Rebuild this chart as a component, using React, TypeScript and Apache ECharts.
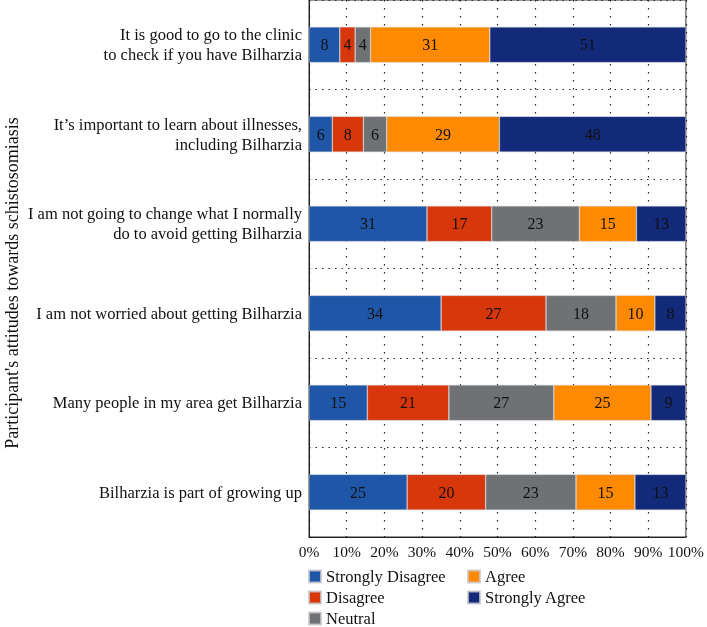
import React, { useEffect, useRef } from "react";
import * as echarts from "echarts";

const categories = [
  "It is good to go to the clinic\nto check if you have Bilharzia",
  "It\u2019s important to learn about illnesses,\nincluding Bilharzia",
  "I am not going to change what I normally\ndo to avoid getting Bilharzia",
  "I am not worried about getting Bilharzia",
  "Many people in my area get Bilharzia",
  "Bilharzia is part of growing up",
];

const seriesNames = ["Strongly Disagree", "Disagree", "Neutral", "Agree", "Strongly Agree"];
const stronglyDisagree = [8, 6, 31, 34, 15, 25];
const disagree = [4, 8, 17, 27, 21, 20];
const neutral = [4, 6, 23, 18, 27, 23];
const agree = [31, 29, 15, 10, 25, 15];
const stronglyAgree = [51, 48, 13, 8, 9, 13];
const xTickLabels = ["0%", "10%", "20%", "30%", "40%", "50%", "60%", "70%", "80%", "90%", "100%"];
const yAxisTitle = "Participant's attitudes towards schistosomiasis";

const colors = ["#1F56A8", "#D8370C", "#6F7275", "#FF8A00", "#13297A"];
const FONT = "'Liberation Serif', 'DejaVu Serif', serif";

export default function App() {
  const ref = useRef<HTMLDivElement>(null);
  useEffect(() => {
    if (!ref.current) return;
    const chart = echarts.init(ref.current, null, { renderer: "svg" });
    const raw = [stronglyDisagree, disagree, neutral, agree, stronglyAgree];
    const totals = categories.map((_, i) => raw.reduce((s, arr) => s + arr[i], 0));
    const series = raw.map((arr, k) => ({
      name: seriesNames[k],
      type: "bar",
      stack: "total",
      barWidth: "40%",
      itemStyle: { color: colors[k], borderColor: "rgba(200,200,205,0.8)", borderWidth: 0.6 },
      label: {
        show: true,
        position: "inside",
        color: "#111",
        fontFamily: FONT,
        fontSize: 16,
        formatter: (p: any) => String(arr[p.dataIndex]),
      },
      data: arr.map((v, i) => (v / totals[i]) * 100),
    }));
    const legendBase = {
      orient: "vertical",
      top: 568,
      height: 80,
      padding: 0,
      itemWidth: 12,
      itemHeight: 12,
      itemGap: 4,
      icon: "rect",
      textStyle: { color: "#111", fontFamily: FONT, fontSize: 16.5, lineHeight: 15 },
    };
    chart.setOption({
      animation: false,
      textStyle: { fontFamily: FONT },
      grid: {
        left: 309,
        right: 17,
        top: 0,
        bottom: 90,
        show: true,
        borderColor: "#333",
        borderWidth: 1,
        containLabel: false,
      },
      xAxis: {
        type: "value",
        min: 0,
        max: 100,
        interval: 10,
        axisLine: { show: true, lineStyle: { color: "#222", width: 1 } },
        axisTick: { show: false },
        axisLabel: {
          color: "#111",
          fontFamily: FONT,
          fontSize: 15.5,
          margin: 6,
          formatter: (v: number) => xTickLabels[Math.round(v / 10)],
        },
        splitLine: { show: true, lineStyle: { color: "#222", type: [1.5, 6.5], width: 1.2 } },
      },
      yAxis: {
        type: "category",
        data: categories,
        inverse: true,
        axisLine: { show: true, lineStyle: { color: "#222", width: 1 } },
        axisTick: { show: false },
        axisLabel: {
          color: "#111",
          fontFamily: FONT,
          fontSize: 16.5,
          lineHeight: 20,
          margin: 7,
          align: "right",
        },
        splitLine: { show: true, lineStyle: { color: "#222", type: [1.5, 5], width: 1.2 } },
      },
      legend: [
        { ...legendBase, data: seriesNames.slice(0, 3), left: 308 },
        { ...legendBase, data: seriesNames.slice(3), left: 467 },
      ],
      graphic: [
        {
          type: "text",
          x: 12,
          y: 283,
          rotation: Math.PI / 2,
          style: {
            text: yAxisTitle,
            fill: "#111",
            font: `18px ${FONT}`,
            textAlign: "center",
            textVerticalAlign: "middle",
          },
        },
      ],
      series,
    });
    return () => chart.dispose();
  }, []);
  return <div ref={ref} style={{ position: "fixed", left: 0, top: 0, width: 707, height: 627 }} />;
}
